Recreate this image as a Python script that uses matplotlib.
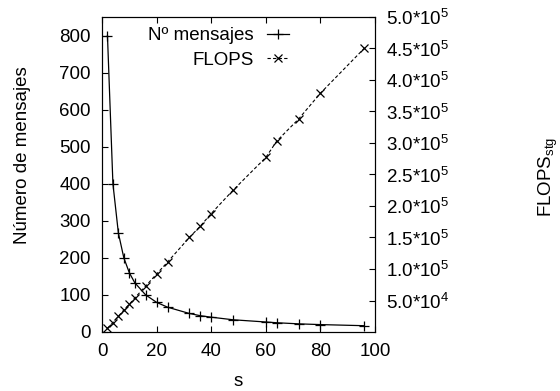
import matplotlib
matplotlib.use("Agg")
import matplotlib.pyplot as plt
from matplotlib.ticker import FixedLocator, FixedFormatter

plt.rcParams['font.family'] = ['Liberation Sans', 'DejaVu Sans']
plt.rcParams['mathtext.fontset'] = 'custom'
plt.rcParams['mathtext.rm'] = 'Liberation Sans'
plt.rcParams['mathtext.it'] = 'Liberation Sans'
plt.rcParams['mathtext.default'] = 'regular'

s_vals = [2, 4, 6, 8, 10, 12, 16, 20, 24, 32, 36, 40, 48, 60, 64, 72, 80, 96]
mensajes = [800, 400, 267, 200, 160, 133, 100, 80, 67, 50, 44, 40, 33, 27, 25, 22, 20, 17]
flops = [6000, 15000, 25000, 35000, 44000, 54000, 73000, 92000, 111000, 150000,
         168000, 188000, 225000, 277000, 303000, 338000, 379000, 450000]

x_ticks = [0, 20, 40, 60, 80, 100]
y_ticks = [0, 100, 200, 300, 400, 500, 600, 700, 800]
y2_ticks = [50000, 100000, 150000, 200000, 250000, 300000, 350000, 400000, 450000, 500000]
y2_labels = ['5.0*10$^{4}$', '1.0*10$^{5}$', '1.5*10$^{5}$', '2.0*10$^{5}$', '2.5*10$^{5}$',
             '3.0*10$^{5}$', '3.5*10$^{5}$', '4.0*10$^{5}$', '4.5*10$^{5}$', '5.0*10$^{5}$']

fs = 13.5
fig = plt.figure(figsize=(5.6, 3.91), dpi=100)
ax = fig.add_axes([102/560, 1-332/391, 273/560, 315/391])
ax2 = ax.twinx()

l1, = ax.plot(s_vals, mensajes, color='black', lw=0.9, marker='+', ms=7, mew=0.9)
l2, = ax2.plot(s_vals, flops, color='black', lw=0.8, ls=(0, (3, 2)), marker='x', ms=6, mew=0.9)

ax.set_xlim(0, 100)
ax.set_ylim(0, 850)
ax2.set_ylim(0, 500000)
ax.set_xticks(x_ticks)
ax.set_yticks(y_ticks)
ax2.yaxis.set_major_locator(FixedLocator(y2_ticks))
ax2.yaxis.set_major_formatter(FixedFormatter(y2_labels))

ax.tick_params(axis='x', direction='in', length=4.5, width=0.8, top=True, labelsize=fs, pad=8)
ax.tick_params(axis='y', direction='in', length=4.5, width=0.8, right=False, labelsize=fs, pad=8)
ax2.tick_params(axis='y', direction='in', length=4.5, width=0.8, labelsize=fs, pad=8)
for a in (ax, ax2):
    for sp in a.spines.values():
        sp.set_linewidth(0.8)

fig.text(238.5/560, 1-382/391, 's', ha='center', va='center', fontsize=fs)
fig.text(23/560, 1-155/391, 'Número de mensajes', ha='center', va='center', rotation=90, fontsize=fs)
fig.text(548/560, 1-177/391, 'FLOPS$_{stg}$', ha='center', va='center', rotation=90, fontsize=fs)

leg = ax.legend([l1, l2], ['Nº mensajes', 'FLOPS'], loc='upper right',
                bbox_to_anchor=(289/560, 1-27/391), bbox_transform=fig.transFigure,
                frameon=False, markerfirst=False, fontsize=fs, borderpad=0,
                handlelength=1.2, handletextpad=0.7, labelspacing=0.4, borderaxespad=0)
for t in leg.get_texts():
    t.set_ha('right')

fig.savefig('out.png', dpi=100)
